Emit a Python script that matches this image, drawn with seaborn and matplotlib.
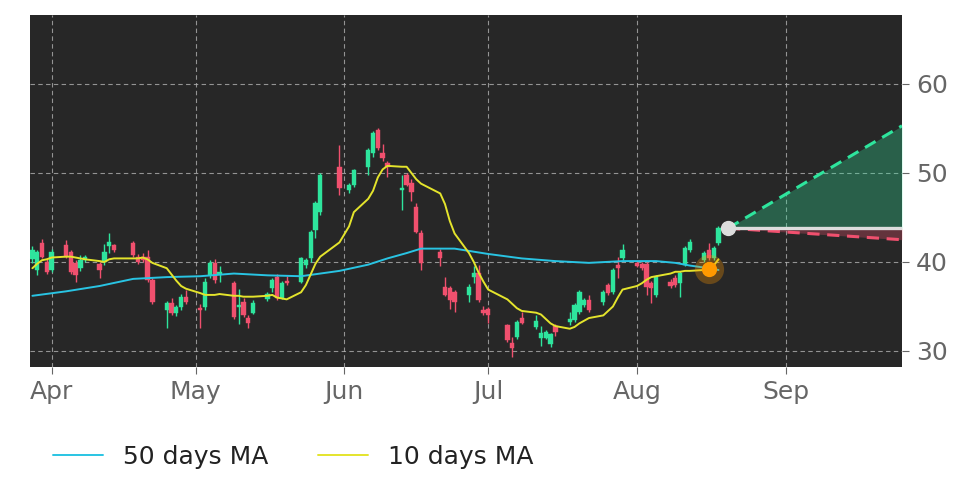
import matplotlib
matplotlib.use("Agg")
import matplotlib.pyplot as plt
import matplotlib.dates as mdates
import pandas as pd
import seaborn as sns

# ---------------- data ----------------
dates = ["2022-03-28", "2022-03-29", "2022-03-30", "2022-03-31", "2022-04-01",
         "2022-04-04", "2022-04-05", "2022-04-06", "2022-04-07", "2022-04-08",
         "2022-04-11", "2022-04-12", "2022-04-13", "2022-04-14",
         "2022-04-18", "2022-04-19", "2022-04-20", "2022-04-21", "2022-04-22",
         "2022-04-25", "2022-04-26", "2022-04-27", "2022-04-28", "2022-04-29",
         "2022-05-02", "2022-05-03", "2022-05-04", "2022-05-05", "2022-05-06",
         "2022-05-09", "2022-05-10", "2022-05-11", "2022-05-12", "2022-05-13",
         "2022-05-16", "2022-05-17", "2022-05-18", "2022-05-19", "2022-05-20",
         "2022-05-23", "2022-05-24", "2022-05-25", "2022-05-26", "2022-05-27",
         "2022-05-31", "2022-06-02", "2022-06-03",
         "2022-06-06", "2022-06-07", "2022-06-08", "2022-06-09", "2022-06-10",
         "2022-06-13", "2022-06-14", "2022-06-15", "2022-06-16", "2022-06-17",
         "2022-06-21", "2022-06-22", "2022-06-23", "2022-06-24",
         "2022-06-27", "2022-06-28", "2022-06-29", "2022-06-30", "2022-07-01",
         "2022-07-05", "2022-07-06", "2022-07-07", "2022-07-08",
         "2022-07-11", "2022-07-12", "2022-07-13", "2022-07-14", "2022-07-15",
         "2022-07-18", "2022-07-19", "2022-07-20", "2022-07-21", "2022-07-22",
         "2022-07-25", "2022-07-26", "2022-07-27", "2022-07-28", "2022-07-29",
         "2022-08-01", "2022-08-02", "2022-08-03", "2022-08-04", "2022-08-05",
         "2022-08-08", "2022-08-09", "2022-08-10", "2022-08-11", "2022-08-12",
         "2022-08-15", "2022-08-16", "2022-08-17", "2022-08-18"]

opens = [40.3, 39.1, 42.1, 40.0, 39.1,
         41.9, 41.1, 39.9, 39.3, 40.2,
         39.8, 40.0, 41.8, 41.9,
         42.1, 40.6, 40.6, 40.6, 38.0,
         34.6, 35.4, 34.3, 34.9, 36.1,
         34.8, 34.9, 38.5, 39.9, 38.6,
         37.6, 34.9, 35.5, 33.7, 34.3,
         35.8, 37.1, 38.3, 36.0, 37.9,
         37.8, 39.7, 40.4, 43.6, 45.6,
         50.7, 48.1, 48.7,
         50.7, 52.2, 54.8, 52.2, 51.1,
         48.1, 49.8, 48.9, 46.2, 43.3,
         41.1, 37.2, 37.1, 36.6,
         36.3, 38.3, 38.8, 34.6, 34.7,
         32.9, 30.9, 31.6, 33.7,
         32.7, 31.5, 31.5, 30.8, 32.8,
         33.3, 33.5, 34.4, 35.2, 35.7,
         35.5, 37.4, 36.6, 39.7, 40.4,
         39.9, 39.8, 39.8, 37.6, 36.3,
         37.8, 38.2, 37.6, 39.7, 41.3,
         40.2, 41.3, 40.4, 42.1]

highs = [41.8, 41.3, 42.6, 40.4, 41.5,
         42.5, 41.4, 40.2, 40.8, 40.8,
         40.0, 42.0, 43.3, 42.0,
         42.4, 40.9, 41.0, 41.3, 38.2,
         35.6, 36.0, 35.2, 36.4, 36.9,
         35.3, 38.2, 40.2, 40.3, 39.6,
         37.9, 37.0, 36.0, 34.0, 35.7,
         36.6, 38.2, 38.6, 37.9, 38.4,
         40.6, 40.5, 43.6, 46.8, 50.0,
         53.1, 48.9, 50.5,
         52.8, 54.7, 55.0, 53.3, 51.4,
         49.8, 50.0, 49.3, 46.6, 43.6,
         41.5, 38.3, 37.3, 36.9,
         37.5, 39.6, 39.7, 35.0, 34.9,
         33.0, 31.6, 33.5, 34.4,
         34.0, 32.8, 32.4, 32.0, 33.0,
         34.4, 35.4, 36.8, 36.0, 36.3,
         36.8, 37.6, 39.3, 40.6, 42.0,
         40.1, 40.0, 40.0, 37.9, 38.5,
         38.1, 38.5, 39.0, 41.8, 42.6,
         41.2, 42.1, 41.8, 44.0]

lows = [39.9, 38.5, 40.4, 38.6, 38.9,
        40.4, 38.7, 37.8, 39.0, 40.0,
        38.2, 39.7, 41.0, 41.1,
        40.6, 39.8, 40.0, 37.8, 35.3,
        32.6, 34.0, 33.9, 34.6, 35.3,
        32.6, 34.6, 38.2, 37.6, 37.8,
        33.6, 33.0, 33.8, 32.6, 34.1,
        35.6, 36.6, 35.7, 35.8, 37.4,
        37.6, 39.3, 40.0, 42.7, 45.3,
        47.5, 47.8, 48.4,
        49.8, 51.8, 52.6, 51.4, 49.6,
        45.8, 48.5, 46.9, 43.2, 39.1,
        39.6, 36.2, 34.7, 34.4,
        35.5, 37.6, 35.5, 34.0, 33.1,
        31.0, 29.3, 31.3, 33.0,
        32.5, 30.6, 31.3, 30.4, 31.7,
        32.9, 33.3, 34.2, 34.9, 34.4,
        35.2, 36.3, 36.4, 38.2, 40.2,
        39.4, 39.1, 36.3, 35.4, 36.1,
        37.1, 37.2, 36.1, 39.5, 41.1,
        40.0, 40.2, 40.2, 41.9]

closes = [41.4, 41.1, 40.6, 38.9, 41.1,
          40.6, 38.9, 38.5, 40.2, 40.6,
          39.1, 41.1, 42.2, 41.3,
          40.8, 40.0, 40.2, 38.0, 35.5,
          35.4, 34.3, 34.9, 36.1, 35.5,
          34.6, 37.8, 39.9, 38.0, 38.9,
          33.8, 35.2, 34.0, 33.1, 35.4,
          36.4, 38.0, 36.0, 37.6, 37.6,
          40.4, 40.2, 43.4, 46.6, 49.8,
          48.3, 48.7, 50.3,
          52.6, 54.5, 52.8, 51.7, 50.7,
          48.3, 48.7, 47.9, 43.4, 39.9,
          40.4, 36.3, 35.7, 35.5,
          37.2, 38.8, 35.7, 34.3, 34.0,
          31.2, 30.3, 33.3, 33.1,
          33.4, 32.0, 32.1, 31.9, 32.1,
          33.6, 35.2, 36.6, 35.7, 34.6,
          36.6, 36.5, 39.1, 39.3, 41.3,
          39.6, 39.3, 37.2, 37.1, 38.3,
          37.3, 37.4, 38.8, 41.6, 42.2,
          41.0, 40.4, 41.6, 43.8]

ma10 = [39.3, 39.8, 40.2, 40.3, 40.5,
        40.6, 40.6, 40.5, 40.4, 40.3,
        40.1, 40.0, 40.3, 40.4,
        40.4, 40.4, 40.5, 40.3, 39.9,
        39.3, 38.6, 37.9, 37.3, 37.0,
        36.5, 36.3, 36.3, 36.3, 36.4,
        36.2, 36.2, 36.1, 36.1, 36.1,
        36.2, 36.3, 36.0, 35.9, 35.8,
        36.6, 37.4, 38.6, 39.8, 40.6,
        42.2, 44.0, 45.6,
        47.1, 48.0, 49.5, 50.4, 50.8,
        50.7, 50.7, 50.0, 49.3, 48.8,
        47.7, 46.5, 44.6, 43.2,
        41.0, 40.0, 38.8, 37.8, 36.9,
        35.8, 35.3, 34.8, 34.5,
        34.3, 34.1, 33.6, 33.1, 32.8,
        32.5, 32.7, 33.1, 33.4, 33.7,
        34.0, 34.5, 35.0, 36.0, 36.9,
        37.3, 37.6, 38.0, 38.3, 38.4,
        38.7, 38.9, 38.9, 39.0, 39.0,
        39.1, 39.2, 39.6, 40.3]

ma50_dates = ["2022-03-28", "2022-04-04", "2022-04-11", "2022-04-18", "2022-04-25",
              "2022-05-02", "2022-05-09", "2022-05-16", "2022-05-23", "2022-05-31",
              "2022-06-06", "2022-06-10", "2022-06-14", "2022-06-17", "2022-06-24",
              "2022-07-01", "2022-07-08", "2022-07-15", "2022-07-22", "2022-07-29",
              "2022-08-05", "2022-08-09", "2022-08-12", "2022-08-16", "2022-08-18"]
ma50 = [36.2, 36.7, 37.3, 38.1, 38.3,
        38.4, 38.7, 38.5, 38.4, 39.0,
        39.7, 40.4, 41.0, 41.5, 41.5,
        40.9, 40.4, 40.1, 39.9, 40.1,
        40.1, 39.9, 39.6, 39.3, 39.1]

forecast_dates = ["2022-08-20 00:00", "2022-09-25 06:00"]
forecast_mid = [43.8, 43.8]
forecast_up = [43.8, 55.3]
forecast_down = [43.8, 42.5]

cross_date = "2022-08-16"
cross_value = 39.2

month_ticks = ["2022-04-01", "2022-05-01", "2022-06-01", "2022-07-01", "2022-08-01", "2022-09-01"]
month_labels = ["Apr", "May", "Jun", "Jul", "Aug", "Sep"]
y_ticks = [30, 40, 50, 60]
x_limits = ["2022-03-27 12:00", "2022-09-25 06:00"]
y_limits = [28.2, 67.75]

# ---------------- style ----------------
sns.set_theme(style="dark")
plt.rcParams["font.family"] = ["DejaVu Sans"]

BG = "#272727"
GREEN = "#2ee59d"
RED = "#f0506e"
CYAN = "#29c4e3"
YELLOW = "#e4e42c"
TICKC = "#666666"


def to_num(values):
    return mdates.date2num(pd.to_datetime(values, format="mixed"))


fig = plt.figure(figsize=(9.72, 4.86), dpi=100)
fig.patch.set_facecolor("white")
ax = fig.add_axes([30 / 972, 1 - 367 / 486, 872 / 972, 352 / 486])
ax.set_facecolor(BG)

df = pd.DataFrame({"date": pd.to_datetime(dates), "open": opens, "high": highs,
                   "low": lows, "close": closes, "ma10": ma10})
df["x"] = mdates.date2num(df["date"])
up = df["close"] >= df["open"]
df["color"] = [GREEN if u else RED for u in up]

# candles
ax.vlines(df["x"], df["low"], df["high"], colors=df["color"], linewidth=1.0, zorder=3)
ax.bar(df["x"], (df["close"] - df["open"]).abs().clip(lower=0.12),
       bottom=df[["open", "close"]].min(axis=1), width=0.9,
       color=df["color"], edgecolor=df["color"], linewidth=0.3, zorder=4)

# moving averages
df50 = pd.DataFrame({"date": pd.to_datetime(ma50_dates), "v": ma50})
sns.lineplot(data=df50, x="date", y="v", ax=ax, color=CYAN, linewidth=1.4,
             label="50 days MA", zorder=5)
sns.lineplot(data=df, x="date", y="ma10", ax=ax, color=YELLOW, linewidth=1.4,
             label="10 days MA", zorder=5)

# forecast cone
fx = to_num(forecast_dates)
ax.fill_between(fx, forecast_mid, forecast_up, color=GREEN, alpha=0.3, linewidth=0, zorder=2)
ax.fill_between(fx, forecast_down, forecast_mid, color=RED, alpha=0.3, linewidth=0, zorder=2)
ax.plot(fx, forecast_up, color=GREEN, linestyle=(0, (4, 2.5)), linewidth=2.2, zorder=6)
ax.plot(fx, forecast_down, color=RED, linestyle=(0, (4, 2.5)), linewidth=2.2, zorder=6)
ax.plot(fx, forecast_mid, color="#dddddd", linewidth=2.4, zorder=6)
ax.plot(fx[:1], forecast_mid[:1], marker="o", markersize=10, color="#dddddd", zorder=7)

# MA cross marker
cx = to_num([cross_date])
ax.plot(cx, [cross_value], marker="o", markersize=21, color="#ff9900", alpha=0.3,
        markeredgewidth=0, zorder=7)
ax.plot(cx, [cross_value], marker="o", markersize=11, color="#ff9900",
        markeredgewidth=0, zorder=8)

# axes
ax.set_xlim(to_num(x_limits))
ax.set_ylim(*y_limits)
ax.set_xticks(to_num(month_ticks))
ax.set_xticklabels(month_labels)
ax.set_yticks(y_ticks)
ax.yaxis.tick_right()
ax.set_xlabel("")
ax.set_ylabel("")
ax.tick_params(axis="both", labelsize=18, colors=TICKC, length=5, width=0.8,
               direction="out", bottom=True, right=True, left=False)
ax.tick_params(axis="x", pad=4)
ax.tick_params(axis="y", pad=5)
ax.grid(True, color="#b0b0b0", linestyle=(0, (4, 3)), linewidth=0.8, alpha=0.8)
for s in ax.spines.values():
    s.set_visible(False)

# legend
handles, labels = ax.get_legend_handles_labels()
ax.get_legend().remove()
fig.legend(handles, labels, loc="center left", bbox_to_anchor=(0.031, 0.06),
           ncol=2, frameon=False, fontsize=18, handlelength=2.0,
           handletextpad=0.8, columnspacing=2.0, labelcolor="#222222")

fig.savefig("out.png", dpi=100, facecolor="white")
